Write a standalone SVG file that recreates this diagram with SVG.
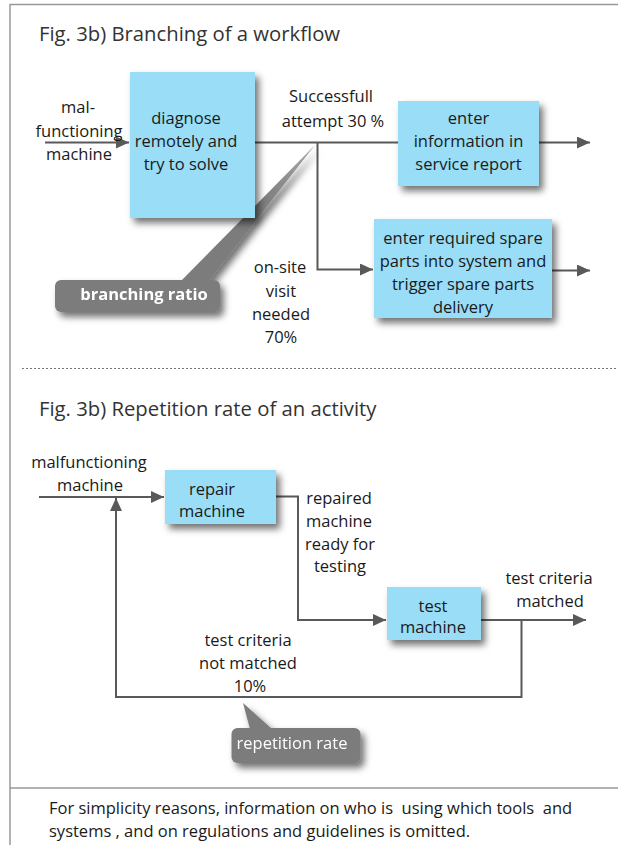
<svg xmlns="http://www.w3.org/2000/svg" width="618" height="845" viewBox="0 0 618 845">
<style>
text{font-family:"Open Sans","Noto Sans","Liberation Sans",sans-serif;fill:#1a1a1a}
.t{font-size:16.5px;text-anchor:middle}
.title{font-size:20.3px;fill:#333}
.foot{font-size:16.5px;white-space:pre}
.box{fill:#99DDF6}
.ln{fill:none;stroke:#595959;stroke-width:2}
.call{fill:#7b7b7b}
.ct{fill:#fff;font-size:16.5px;text-anchor:middle}
.frame{stroke:#999;stroke-width:1.5;fill:none}
</style>
<defs>
<marker id="ah" markerUnits="userSpaceOnUse" markerWidth="14" markerHeight="12" refX="13" refY="6" orient="auto">
<path d="M0,0 L13,6 L0,12 z" fill="#595959"/>
</marker>
<filter id="sh" x="-20%" y="-20%" width="150%" height="150%">
<feDropShadow dx="4" dy="5" stdDeviation="3.5" flood-color="#000" flood-opacity="0.55"/>
</filter>
<linearGradient id="pg" x1="0" y1="0" x2="1" y2="0">
<stop offset="0" stop-color="#7b7b7b"/>
<stop offset="0.6" stop-color="#7b7b7b"/>
<stop offset="1" stop-color="#a8a8a8"/>
</linearGradient>
</defs>

<g id="frame">
<path class="frame" d="M10,845 V4.5 H618"/>
<line x1="10" y1="788" x2="618" y2="788" stroke="#999" stroke-width="1.5"/>
<line x1="22" y1="368.5" x2="618" y2="368.5" stroke="#777" stroke-width="1.2" stroke-dasharray="2,2"/>
</g>

<text class="title" x="39" y="41">Fig. 3b) Branching of a workflow</text>
<text class="title" x="39" y="416">Fig. 3b) Repetition rate of an activity</text>

<g id="connectors">
<line class="ln" x1="45" y1="142.5" x2="129" y2="142.5" marker-end="url(#ah)"/>
<line class="ln" x1="255" y1="142.5" x2="398" y2="142.5"/>
<polyline class="ln" points="317.5,142.5 317.5,269.5 373,269.5" marker-end="url(#ah)"/>
<line class="ln" x1="539" y1="142.5" x2="590" y2="142.5" marker-end="url(#ah)"/>
<line class="ln" x1="552" y1="270.5" x2="590" y2="270.5" marker-end="url(#ah)"/>

<line class="ln" x1="39" y1="497" x2="164" y2="497" marker-end="url(#ah)"/>
<polyline class="ln" points="276,496.5 298,496.5 298,620 386,620" marker-end="url(#ah)"/>
<line class="ln" x1="481" y1="620" x2="586" y2="620" marker-end="url(#ah)"/>
<polyline class="ln" points="521.5,620 521.5,697 116,697 116,498" marker-end="url(#ah)"/>
</g>

<g id="callout-branching" filter="url(#sh)">
<polygon points="315,145 181,281 209,281" fill="url(#pg)"/>
<rect class="call" x="55" y="280" width="165" height="32" rx="6"/>
<text class="ct" x="144" y="300" font-weight="bold" font-size="16">branching ratio</text>
</g>

<g id="callout-repetition" filter="url(#sh)">
<polygon points="243,703 250,729 272,729" fill="#7b7b7b"/>
<rect class="call" x="231.5" y="728" width="129" height="35" rx="6"/>
<text class="ct" x="292" y="748.5">repetition rate</text>
</g>

<g id="node-diagnose">
<rect class="box" x="130" y="72" width="125" height="146" filter="url(#sh)"/>
<text class="t" x="186" y="124">diagnose</text>
<text class="t" x="186" y="147">remotely and</text>
<text class="t" x="186" y="169.5">try to solve</text>
</g>

<g id="node-enter-info">
<rect class="box" x="398" y="101" width="141" height="85" filter="url(#sh)"/>
<text class="t" x="468.5" y="124">enter</text>
<text class="t" x="468.5" y="147">information in</text>
<text class="t" x="468.5" y="169.5">service report</text>
</g>

<g id="node-spare-parts">
<rect class="box" x="374" y="219" width="178" height="99" filter="url(#sh)"/>
<text class="t" x="463" y="244">enter required spare</text>
<text class="t" x="463" y="267">parts into system and</text>
<text class="t" x="463" y="290">trigger spare parts</text>
<text class="t" x="463" y="312.5">delivery</text>
</g>

<g id="labels-top">
<text class="t" x="78" y="113">mal-</text>
<text class="t" x="79" y="137">functioning</text>
<text class="t" x="79" y="160">machine</text>
<text class="t" x="331" y="102">Successfull</text>
<text class="t" x="333" y="127">attempt 30 %</text>
<text class="t" x="280" y="273">on-site</text>
<text class="t" x="281" y="296.5">visit</text>
<text class="t" x="281" y="320">needed</text>
<text class="t" x="281" y="343">70%</text>
</g>

<g id="node-repair">
<rect class="box" x="165" y="470" width="111" height="54" filter="url(#sh)"/>
<text class="t" x="212" y="495">repair</text>
<text class="t" x="212" y="517">machine</text>
</g>

<g id="node-test">
<rect class="box" x="387" y="587" width="94" height="53" filter="url(#sh)"/>
<text class="t" x="433" y="612">test</text>
<text class="t" x="433" y="633">machine</text>
</g>

<g id="labels-bottom">
<text class="t" x="89" y="468">malfunctioning</text>
<text class="t" x="90" y="490.5">machine</text>
<text class="t" x="339" y="504">repaired</text>
<text class="t" x="339" y="527">machine</text>
<text class="t" x="340" y="549.5">ready for</text>
<text class="t" x="340" y="572">testing</text>
<text class="t" x="549" y="583.5">test criteria</text>
<text class="t" x="550" y="606.5">matched</text>
<text class="t" x="248" y="646">test criteria</text>
<text class="t" x="248" y="668.5">not matched</text>
<text class="t" x="250" y="691.5">10%</text>
</g>

<g id="footer">
<text class="foot" x="49" y="813.5" xml:space="preserve">For simplicity reasons, information on who is  using which tools  and</text>
<text class="foot" x="49" y="836.5">systems , and on regulations and guidelines is omitted.</text>
</g>
</svg>
